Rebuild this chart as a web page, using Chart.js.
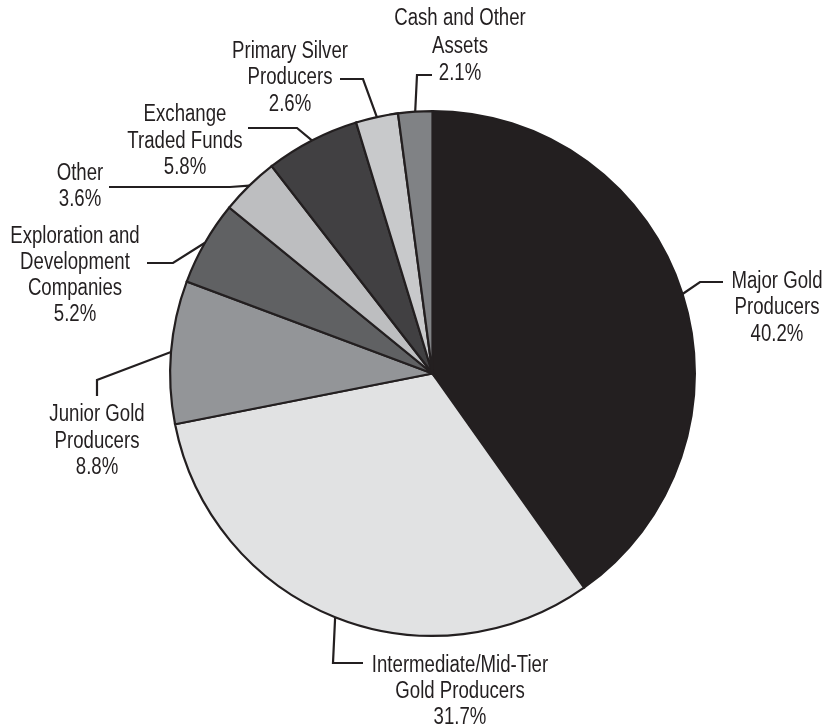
<!DOCTYPE html>
<html>
<head>
<meta charset="utf-8">
<style>
  html, body { margin: 0; padding: 0; background: #ffffff; }
  #wrap { width: 825px; height: 728px; }
</style>
<script src="https://cdn.jsdelivr.net/npm/chart.js@4.4.1/dist/chart.umd.min.js"></script>
</head>
<body>
<div id="wrap"><canvas id="c" width="825" height="728"></canvas></div>
<script>
// ---- Data ----
const categories = [
  ['Major Gold', 'Producers'],
  ['Intermediate/Mid-Tier', 'Gold Producers'],
  ['Junior Gold', 'Producers'],
  ['Exploration and', 'Development', 'Companies'],
  ['Other'],
  ['Exchange', 'Traded Funds'],
  ['Primary Silver', 'Producers'],
  ['Cash and Other', 'Assets']
];
const values = [40.2, 31.7, 8.8, 5.2, 3.6, 5.8, 2.6, 2.1];
const sliceColors = ['#231f20', '#e1e2e3', '#939598', '#606163', '#bdbec0', '#414042', '#c8c9cb', '#808285'];

// ---- Label layout (elbow points, text anchor) ----
const labelLayout = [
  { pts: [[700, 282], [723, 282]], tx: 777, ty: [282, 308, 335] },
  { pts: [[333, 663], [363, 663]], tx: 460, ty: [666, 692, 718] },
  { pts: [[97, 380], [97, 396]], tx: 97, ty: [415, 442, 468] },
  { pts: [[173, 263], [147, 263]], tx: 75, ty: [237, 263, 289, 315] },
  { pts: [[230, 187], [109, 187]], tx: 80, ty: [174, 200] },
  { pts: [[297, 128], [248, 128]], tx: 185, ty: [115, 142, 168] },
  { pts: [[363, 79], [340, 79]], tx: 290, ty: [52, 78, 105] },
  { pts: [[417, 75], [432, 75]], tx: 460, ty: [19, 47, 74] }
];

const FONT = '23px "Liberation Sans", Arial, sans-serif';
const SQUEEZE = 0.81;
const INK = '#231f20';

const leaderPlugin = {
  id: 'leaders',
  afterDatasetsDraw(chart) {
    const ctx = chart.ctx;
    const meta = chart.getDatasetMeta(0);
    const ds = chart.data.datasets[0];
    ctx.save();
    meta.data.forEach((arc, i) => {
      const p = arc.getProps(['x', 'y', 'startAngle', 'endAngle', 'outerRadius'], true);
      const mid = (p.startAngle + p.endAngle) / 2;
      const sx = p.x + Math.cos(mid) * p.outerRadius;
      const sy = p.y + Math.sin(mid) * p.outerRadius;
      const lay = labelLayout[i];
      ctx.beginPath();
      ctx.moveTo(sx, sy);
      lay.pts.forEach(pt => ctx.lineTo(pt[0], pt[1]));
      ctx.strokeStyle = INK;
      ctx.lineWidth = 2.2;
      ctx.lineJoin = 'miter';
      ctx.stroke();

      const lines = chart.data.labels[i].concat([ds.data[i].toFixed(1) + '%']);
      ctx.fillStyle = INK;
      ctx.font = FONT;
      ctx.textAlign = 'center';
      ctx.textBaseline = 'middle';
      lines.forEach((t, k) => {
        ctx.save();
        ctx.translate(lay.tx, lay.ty[k]);
        ctx.scale(SQUEEZE, 1);
        ctx.fillText(t, 0, 0);
        ctx.restore();
      });
    });
    ctx.restore();
  }
};

new Chart(document.getElementById('c'), {
  type: 'pie',
  data: {
    labels: categories,
    datasets: [{
      data: values,
      backgroundColor: sliceColors,
      borderColor: '#231f20',
      borderWidth: 2.2,
      borderJoinStyle: 'miter'
    }]
  },
  options: {
    responsive: false,
    animation: false,
    layout: { padding: { left: 169, right: 129, top: 110, bottom: 91 } },
    plugins: {
      legend: { display: false },
      tooltip: { enabled: false }
    }
  },
  plugins: [leaderPlugin]
});
</script>
</body>
</html>
